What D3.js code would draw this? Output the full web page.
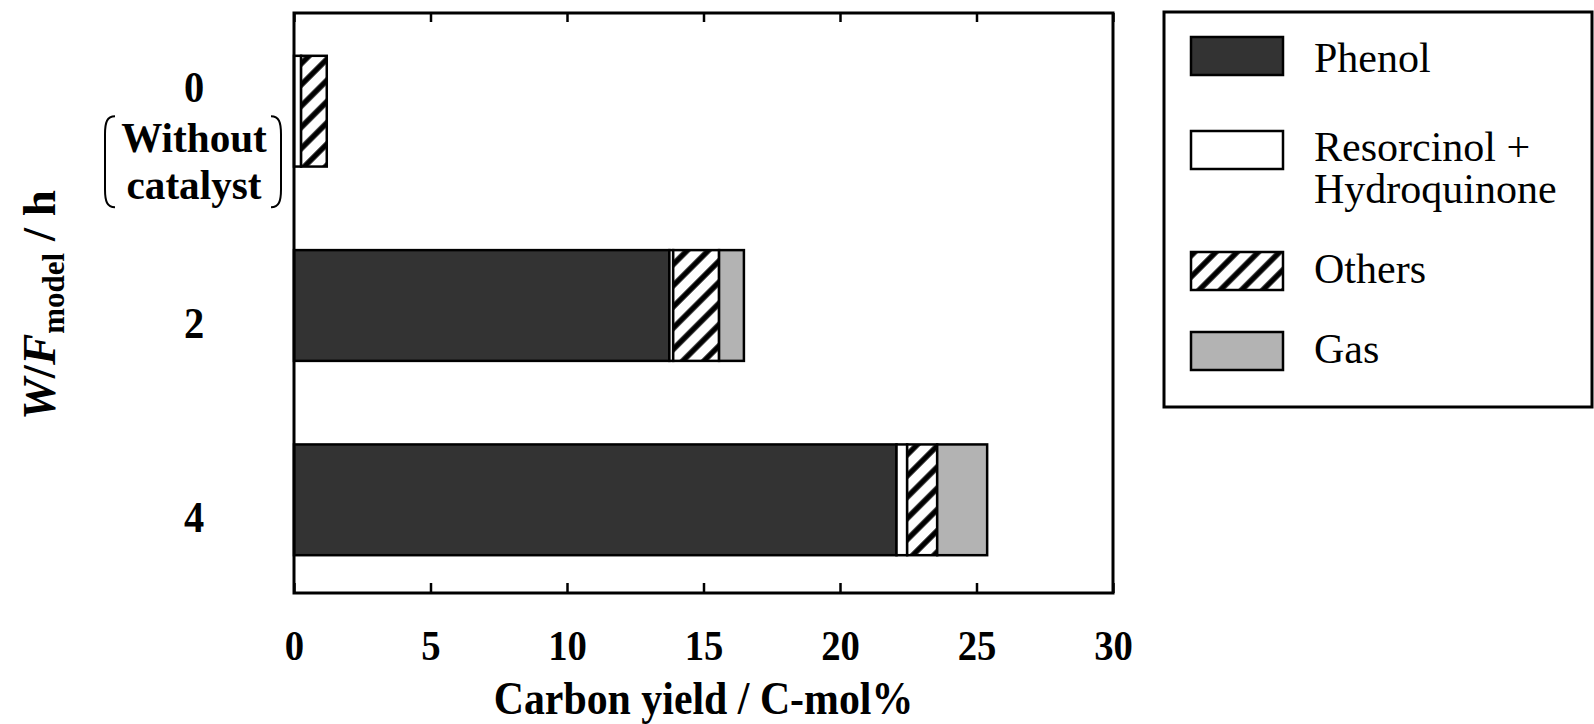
<!DOCTYPE html>
<html>
<head>
<meta charset="utf-8">
<script src="https://cdn.jsdelivr.net/npm/d3@7"></script>
<style>
  body { margin: 0; background: #fff; }
  svg text { font-family: "Liberation Serif", "Times New Roman", serif; }
</style>
</head>
<body>
<svg width="1594" height="724"></svg>
<script>
// data
const categories = ['0', '2', '4'];
const seriesNames = ['Phenol', 'Resorcinol + Hydroquinone', 'Others', 'Gas'];
const phenol = [0, 13.75, 22.07];
const resHyd = [0.26, 0.14, 0.39];
const others = [0.94, 1.68, 1.10];
const gas = [0, 0.91, 1.83];
const xTicks = [0, 5, 10, 15, 20, 25, 30];

const svg = d3.select('svg');
const plotL = 294, plotR = 1113, plotT = 13, plotB = 593;
const squeeze = 'scale(0.92,1)';

const x = d3.scaleLinear().domain([0, 30]).range([plotL, plotR]);
const y = d3.scaleBand()
  .domain(categories)
  .range([15, 596])
  .paddingInner(0.43)
  .paddingOuter(0.21);

const fills = {
  'Phenol': '#333333',
  'Resorcinol + Hydroquinone': '#ffffff',
  'Others': 'url(#hatch)',
  'Gas': '#b3b3b3'
};

// hatch pattern
const defs = svg.append('defs');
const pat = defs.append('pattern')
  .attr('id', 'hatch')
  .attr('patternUnits', 'userSpaceOnUse')
  .attr('width', 15).attr('height', 15)
  .attr('patternTransform', 'rotate(45)');
pat.append('rect').attr('width', 15).attr('height', 15).attr('fill', '#fff');
pat.append('line')
  .attr('x1', 3).attr('y1', 0).attr('x2', 3).attr('y2', 15)
  .attr('stroke', '#000').attr('stroke-width', 5.5);

// stack
const rows = categories.map((c, i) => ({
  cat: c,
  'Phenol': phenol[i],
  'Resorcinol + Hydroquinone': resHyd[i],
  'Others': others[i],
  'Gas': gas[i]
}));
const stacked = d3.stack().keys(seriesNames)(rows);

svg.append('g')
  .selectAll('g')
  .data(stacked)
  .join('g')
  .attr('fill', d => fills[d.key])
  .selectAll('rect')
  .data(d => d.filter(s => s[1] - s[0] > 0))
  .join('rect')
  .attr('x', d => x(d[0]))
  .attr('width', d => x(d[1]) - x(d[0]))
  .attr('y', d => y(d.data.cat))
  .attr('height', y.bandwidth())
  .attr('stroke', '#000')
  .attr('stroke-width', 2.5);

// axes
const xAxis = svg.append('g')
  .attr('transform', `translate(0,${plotB})`)
  .call(d3.axisBottom(x).tickValues(xTicks).tickSizeInner(-10).tickSizeOuter(0).tickPadding(36));
xAxis.select('.domain').remove();
xAxis.selectAll('line').attr('stroke-width', 2.5);
xAxis.selectAll('text')
  .attr('font-size', 43)
  .attr('font-weight', 'bold')
  .attr('font-family', '"Liberation Serif", "Times New Roman", serif')
  .attr('fill', '#000')
  .attr('transform', 'scale(0.9,1)');

const xTop = svg.append('g')
  .attr('transform', `translate(0,${plotT})`)
  .call(d3.axisTop(x).tickValues(xTicks).tickSizeInner(-9).tickSizeOuter(0).tickFormat(''));
xTop.select('.domain').remove();
xTop.selectAll('line').attr('stroke-width', 2.5);

// frame
svg.append('rect')
  .attr('x', plotL).attr('y', plotT)
  .attr('width', plotR - plotL).attr('height', plotB - plotT)
  .attr('fill', 'none').attr('stroke', '#000').attr('stroke-width', 3);

// x title
svg.append('text')
  .attr('transform', `translate(${(plotL + plotR) / 2},714) ${squeeze}`)
  .attr('text-anchor', 'middle')
  .attr('font-size', 45.5)
  .attr('font-weight', 'bold')
  .text('Carbon yield / C-mol%');

// y title
const yt = svg.append('text')
  .attr('transform', `translate(55,${(plotT + plotB) / 2 + 2}) rotate(-90)`)
  .attr('text-anchor', 'middle')
  .attr('font-size', 47)
  .attr('font-weight', 'bold');
yt.append('tspan').attr('font-style', 'italic').text('W');
yt.append('tspan').text('/');
yt.append('tspan').attr('font-style', 'italic').text('F');
yt.append('tspan').attr('font-size', 31).attr('dy', 9).text('model');
yt.append('tspan').attr('dy', -9).text(' / h');

// category labels
const labelX = 194;
const catLabels = svg.append('g')
  .attr('font-weight', 'bold')
  .attr('text-anchor', 'middle');
categories.forEach(c => {
  const cy = y(c) + y.bandwidth() / 2;
  if (c === '0') {
    catLabels.append('text')
      .attr('transform', `translate(${labelX},${cy - 9}) ${squeeze}`)
      .attr('font-size', 44).text(c);
    catLabels.append('text')
      .attr('transform', `translate(${labelX},${cy + 41}) scale(0.98,1)`)
      .attr('font-size', 42).text('Without');
    catLabels.append('text')
      .attr('transform', `translate(${labelX},${cy + 88}) scale(0.98,1)`)
      .attr('font-size', 42).text('catalyst');
    const b0 = cy + 5, b1 = cy + 96;
    svg.append('path')
      .attr('d', `M115,${b0} C107,${b0} 105,${b0 + 6} 105,${b0 + 18} L105,${b1 - 18} C105,${b1 - 6} 107,${b1} 115,${b1}`)
      .attr('fill', 'none').attr('stroke', '#000').attr('stroke-width', 2);
    svg.append('path')
      .attr('d', `M271,${b0} C279,${b0} 281,${b0 + 6} 281,${b0 + 18} L281,${b1 - 18} C281,${b1 - 6} 279,${b1} 271,${b1}`)
      .attr('fill', 'none').attr('stroke', '#000').attr('stroke-width', 2);
  } else {
    catLabels.append('text')
      .attr('transform', `translate(${labelX},${cy + 32}) ${squeeze}`)
      .attr('font-size', 44).text(c);
  }
});

// legend
svg.append('rect')
  .attr('x', 1164).attr('y', 12)
  .attr('width', 428).attr('height', 395)
  .attr('fill', 'none').attr('stroke', '#000').attr('stroke-width', 3);

const legendRows = [
  { key: 'Phenol', sy: 37, lines: ['Phenol'], ty: 72 },
  { key: 'Resorcinol + Hydroquinone', sy: 131, lines: ['Resorcinol +', 'Hydroquinone'], ty: 161 },
  { key: 'Others', sy: 252, lines: ['Others'], ty: 283 },
  { key: 'Gas', sy: 332, lines: ['Gas'], ty: 363 }
];
const lg = svg.append('g');
legendRows.forEach(r => {
  lg.append('rect')
    .attr('x', 1191).attr('y', r.sy)
    .attr('width', 92).attr('height', 38)
    .attr('fill', fills[r.key])
    .attr('stroke', '#000').attr('stroke-width', 2.5);
  const t = lg.append('text')
    .attr('x', 1314).attr('y', r.ty)
    .attr('font-size', 42);
  r.lines.forEach((l, i) => {
    t.append('tspan').attr('x', 1314).attr('dy', i === 0 ? 0 : 42).text(l);
  });
});
</script>
</body>
</html>
